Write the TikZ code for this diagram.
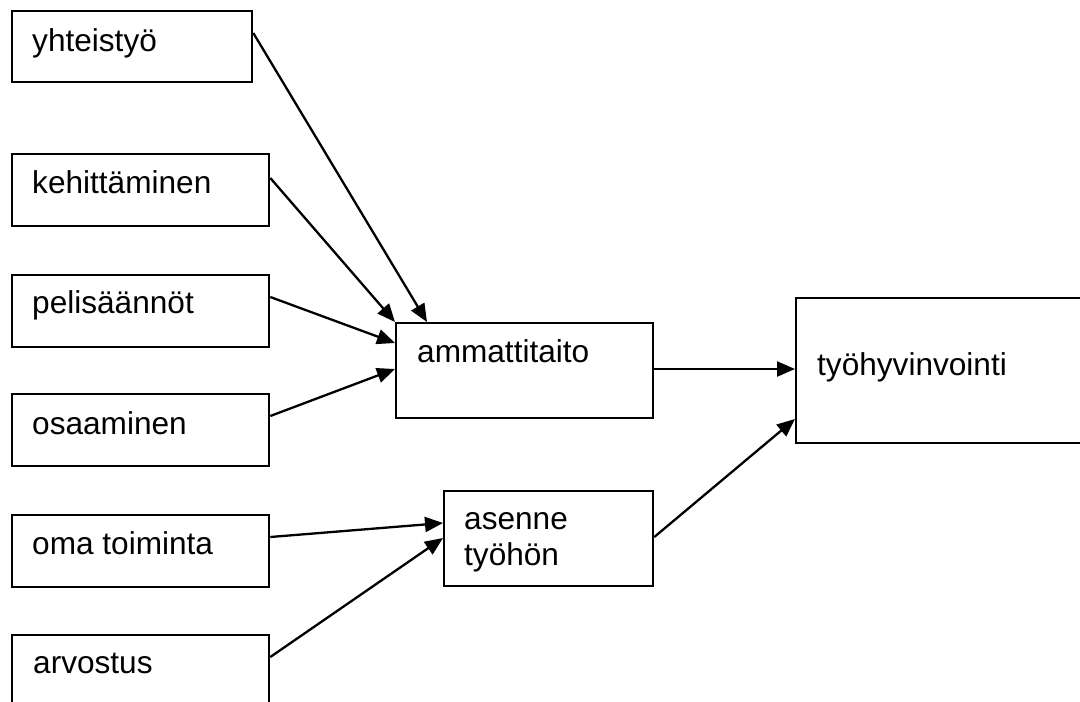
\documentclass[tikz,border=0pt]{standalone}
\usepackage{fontspec}
\setmainfont{Liberation Sans}
\usetikzlibrary{arrows.meta}
\begin{document}
\begin{tikzpicture}[x=1pt,y=-1pt,
  box/.style={draw=black,line width=2.3pt,inner sep=0pt,anchor=north west},
  txt/.style={anchor=base west,inner sep=0pt,font=\fontsize{31.6}{36}\selectfont},
  conn/.style={line width=2.3pt,-{Triangle[length=18pt,width=15pt]}}]
\useasboundingbox (0,0) rectangle (1080,702);
\clip (0,0) rectangle (1080,702);
% boxes
\node[box,minimum width=240pt,minimum height=71pt] (yh) at (11,10) {};
\node[box,minimum width=257pt,minimum height=72pt] (ke) at (11,153) {};
\node[box,minimum width=257pt,minimum height=72pt] (pe) at (11,274) {};
\node[box,minimum width=257pt,minimum height=72pt] (os) at (11,393) {};
\node[box,minimum width=257pt,minimum height=72pt] (om) at (11,514) {};
\node[box,minimum width=257pt,minimum height=90pt] (ar) at (11,634) {};
\node[box,minimum width=257pt,minimum height=95pt] (am) at (395,322) {};
\node[box,minimum width=209pt,minimum height=95pt] (as) at (443,490) {};
\node[box,minimum width=300pt,minimum height=145pt] (ty) at (795,297) {};
% texts
\node[txt] (tyh) at (32,51) {yhteistyö};
\node[txt] (tke) at (32,193) {kehittäminen};
\node[txt] (tpe) at (32,313) {pelisäännöt};
\node[txt] (tos) at (32,434) {osaaminen};
\node[txt] (tom) at (32,554) {oma toiminta};
\node[txt] (tar) at (33,673) {arvostus};
\node[txt] (tam) at (417,362) {ammattitaito};
\node[txt] (tas1) at (464,529) {asenne};
\node[txt] (tas2) at (464,565) {työhön};
\node[txt] (tty) at (817,375) {työhyvinvointi};
% connectors
\draw[conn] ([yshift=-23pt]yh.north east) -- ([xshift=32pt]am.north west);
\draw[conn] ([yshift=-25pt]ke.north east) -- (am.north west);
\draw[conn] ([yshift=-23pt]pe.north east) -- ([yshift=-21pt]am.north west);
\draw[conn] ([yshift=-23pt]os.north east) -- ([yshift=-47pt]am.north west);
\draw[conn] ([yshift=-47pt]am.north east) -- ([yshift=-72pt]ty.north west);
\draw[conn] ([yshift=-23pt]om.north east) -- ([yshift=-33pt]as.north west);
\draw[conn] ([yshift=-23pt]ar.north east) -- ([yshift=-48pt]as.north west);
\draw[conn] ([yshift=-47pt]as.north east) -- ([yshift=-122pt]ty.north west);
\end{tikzpicture}
\end{document}
